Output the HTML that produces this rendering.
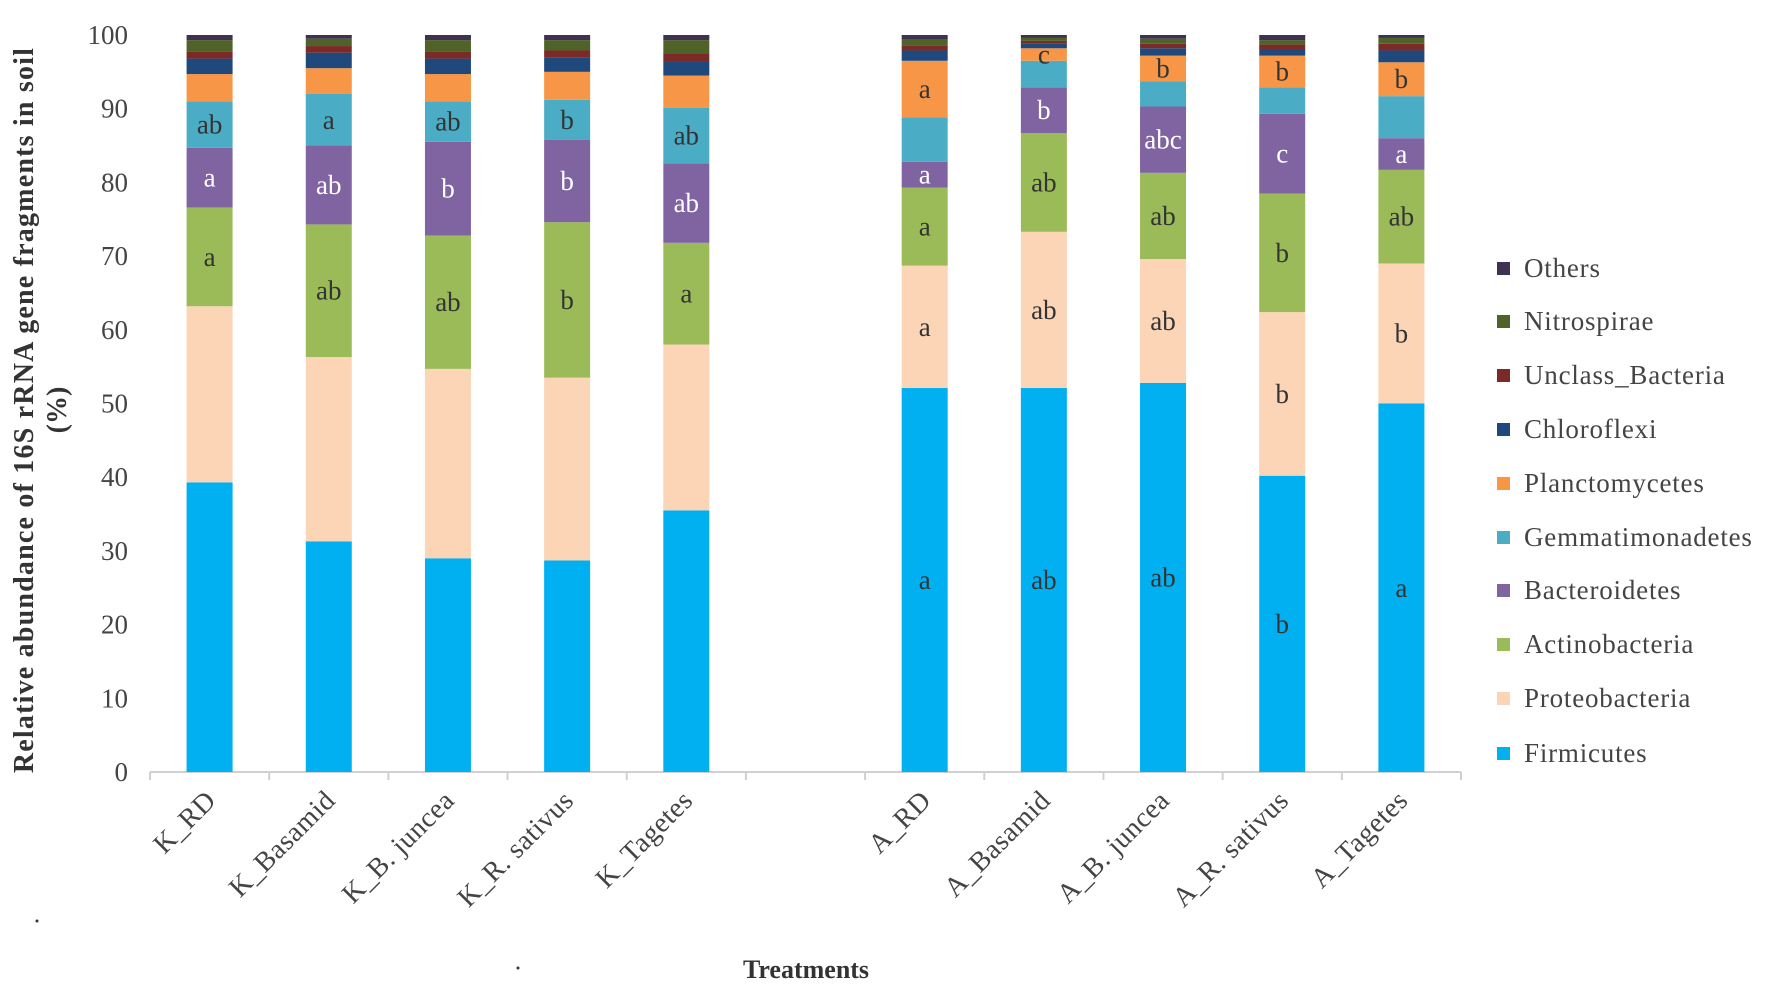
<!DOCTYPE html>
<html><head><meta charset="utf-8"><style>
html,body{margin:0;padding:0;background:#fff;}
svg{display:block;font-family:"Liberation Serif",serif;}
</style></head><body>
<svg id="chart" width="1772" height="991" viewBox="0 0 1772 991" xmlns="http://www.w3.org/2000/svg">
<g id="plot"></g>
<text transform="translate(33,410) rotate(-90)" text-anchor="middle" font-size="28" font-weight="bold" letter-spacing="1.2" fill="#333">Relative abundance  of 16S rRNA gene fragments  in soil</text>
<text transform="translate(66,410) rotate(-90)" text-anchor="middle" font-size="28" font-weight="bold" fill="#333">(%)</text>
<text x="806" y="978" text-anchor="middle" font-size="26" font-weight="bold" fill="#333">Treatments</text>
<circle cx="37" cy="921" r="1.5" fill="#333"/>
<circle cx="518" cy="968" r="1.5" fill="#333"/>
</svg>
<script>
const categories = ["K_RD","K_Basamid","K_B. juncea","K_R. sativus","K_Tagetes","","A_RD","A_Basamid","A_B. juncea","A_R. sativus","A_Tagetes"];
const seriesNames = ["Firmicutes","Proteobacteria","Actinobacteria","Bacteroidetes","Gemmatimonadetes","Planctomycetes","Chloroflexi","Unclass_Bacteria","Nitrospirae","Others"];
const seriesColors = ["#00b0f0","#fbd5b5","#9bbb59","#8064a2","#4bacc6","#f79646","#1f497d","#7b2a28","#4f6228","#3f3151"];
const firmicutes       = [39.3,31.3,29.0,28.7,35.5,null,52.1,52.1,52.8,40.2,50.0];
const proteobacteria   = [23.9,25.0,25.7,24.8,22.5,null,16.6,21.2,16.8,22.2,19.0];
const actinobacteria   = [13.4,18.0,18.1,21.1,13.8,null,10.6,13.4,11.7,16.1,12.7];
const bacteroidetes    = [8.1,10.7,12.7,11.2,10.8,null,3.5,6.2,9.0,10.8,4.3];
const gemmatimonadetes = [6.3,7.0,5.5,5.4,7.5,null,6.0,3.6,3.4,3.6,5.7];
const planctomycetes   = [3.7,3.5,3.7,3.8,4.4,null,7.7,1.7,3.5,4.3,4.6];
const chloroflexi      = [2.1,2.1,2.1,1.9,1.9,null,1.4,0.6,1.0,0.9,1.6];
const unclassBacteria  = [1.0,0.9,1.0,1.0,1.1,null,0.7,0.4,0.6,0.6,0.9];
const nitrospirae      = [1.5,1.0,1.5,1.4,1.8,null,0.8,0.4,0.7,0.6,0.8];
const others           = [0.7,0.5,0.7,0.7,0.7,null,0.6,0.4,0.5,0.7,0.4];
const sigLetters = [
 ["","","","","","","a","ab","ab","b","a"],
 ["","","","","","","a","ab","ab","b","b"],
 ["a","ab","ab","b","a","","a","ab","ab","b","ab"],
 ["a","ab","b","b","ab","","a","b","abc","c","a"],
 ["ab","a","ab","b","ab","","","","","",""],
 ["","","","","","","a","c","b","b","b"],
 [],[],[],[]
];
const yTicks = [0,10,20,30,40,50,60,70,80,90,100];
const series = [firmicutes,proteobacteria,actinobacteria,bacteroidetes,gemmatimonadetes,planctomycetes,chloroflexi,unclassBacteria,nitrospirae,others];

const NS="http://www.w3.org/2000/svg";
const svg=document.getElementById('plot');
const X0=150,X1=1461,Y0=772,Y100=35,BW=46;
const slot=(X1-X0)/categories.length;
const xc=i=>X0+slot*(i+0.5);
const y=v=>Y0+(Y100-Y0)*v/100;
function mk(t,a){const e=document.createElementNS(NS,t);for(const k in a)e.setAttribute(k,a[k]);svg.appendChild(e);return e;}

let ax=mk('line',{x1:X0,y1:Y0,x2:X1,y2:Y0,stroke:'#d0d0d0','stroke-width':2});


for(let i=0;i<=categories.length;i++){
  const tk=mk('line',{x1:X0+slot*i,y1:Y0,x2:X0+slot*i,y2:Y0+8,stroke:'#d0d0d0','stroke-width':2});
  
  
}
yTicks.forEach(v=>{
  const t=mk('text',{x:128,y:y(v)+9,'text-anchor':'end','font-size':27,fill:'#444'});
  t.textContent=v;
  
  
});
categories.forEach((c,i)=>{
  if(!c)return;
  const cx=xc(i);
  const t=mk('text',{transform:`translate(${cx+8},${Y0+30}) rotate(-45)`,'text-anchor':'end','font-size':28,'letter-spacing':0.5,fill:'#444'});
  t.textContent=c;
  
  
  let cum=0;
  series.forEach((s,k)=>{
    const v=s[i]; if(v==null)return;
    const r=mk('rect',{x:cx-BW/2,y:y(cum+v),width:BW,height:y(cum)-y(cum+v),fill:seriesColors[k]});
    
    
    const L=sigLetters[k]&&sigLetters[k][i];
    if(L){
      const lt=mk('text',{x:cx,y:(y(cum)+y(cum+v))/2+9,'text-anchor':'middle','font-size':27,fill:k===3?'#fff':'#333'});
      lt.textContent=L;
      
      
    }
    cum+=v;
  });
});
const legY=[762,707,653,599,546,492,438,384,330,277];
seriesNames.forEach((n,k)=>{
  const g=mk('rect',{x:1497,y:legY[k]-15,width:13,height:13,fill:seriesColors[k]});
  
  
  const t=mk('text',{x:1524,y:legY[k],'font-size':27,'letter-spacing':0.8,fill:'#444'});
  t.textContent=n;
  
  
});
</script>
</body></html>
